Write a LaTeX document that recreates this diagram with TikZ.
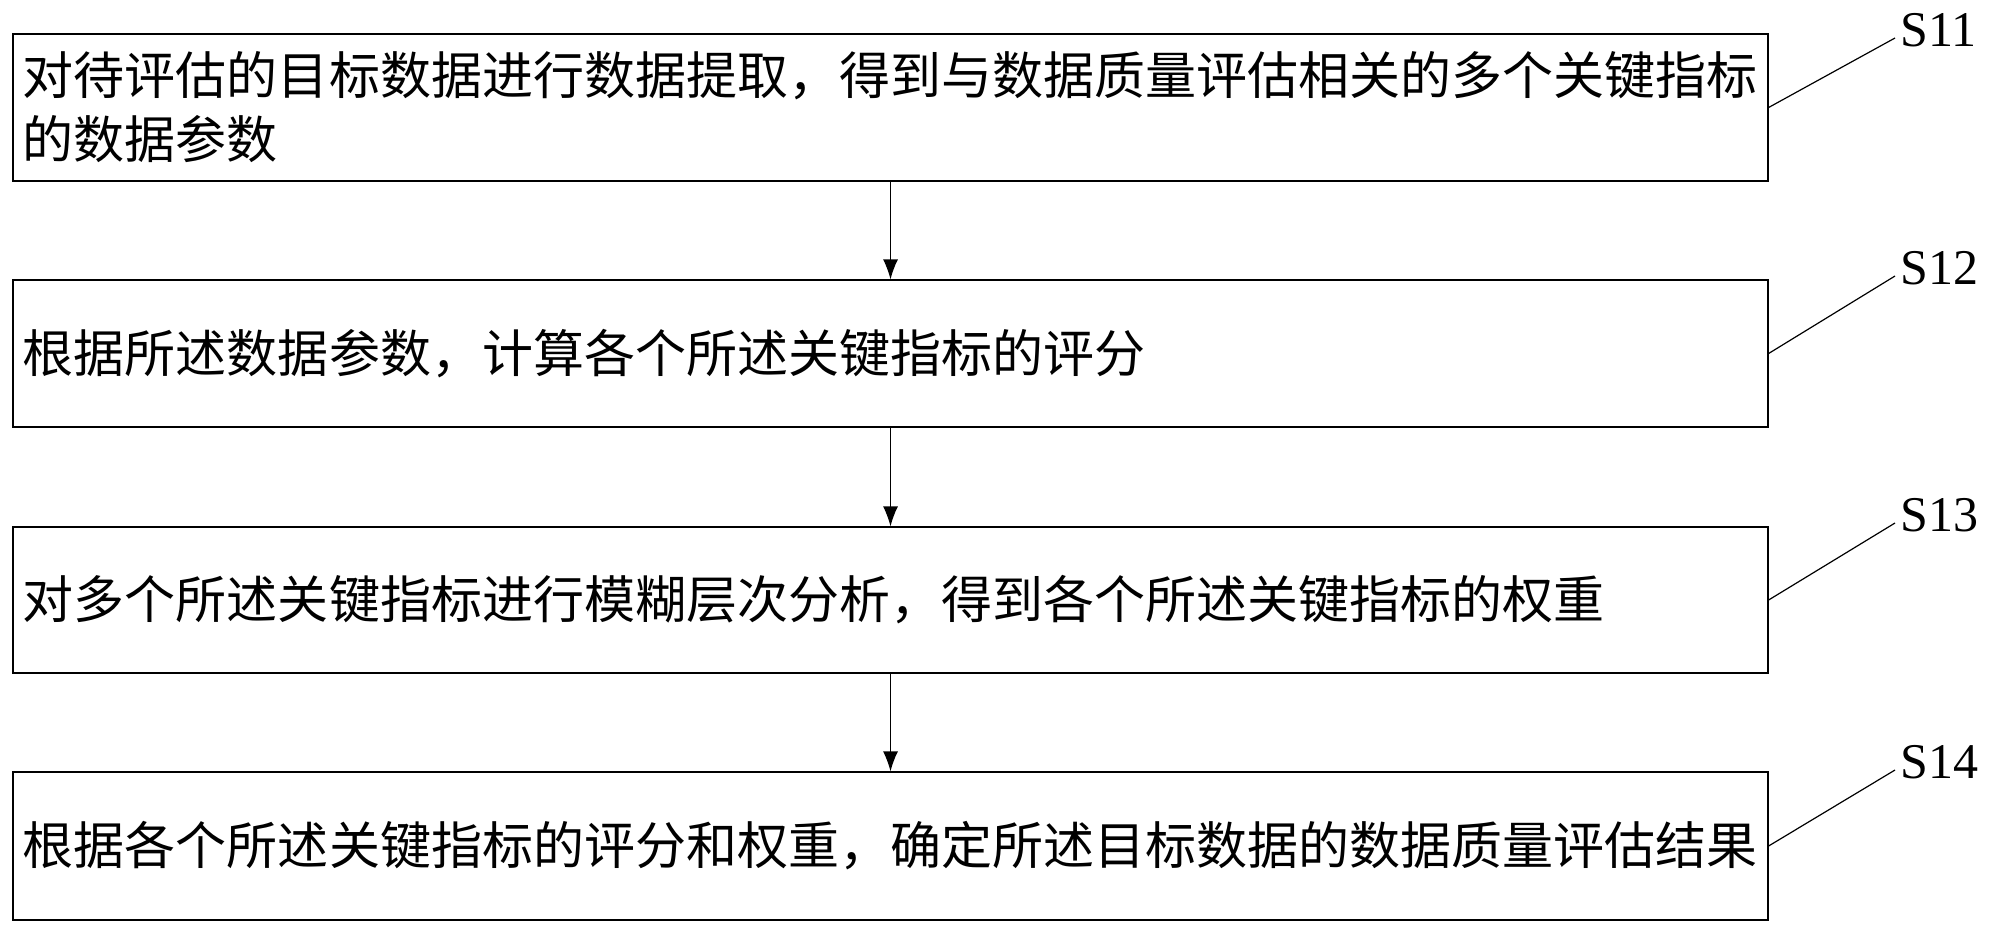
\documentclass[tikz,border=0pt]{standalone}
\usepackage{fontspec}
\setmainfont{Liberation Serif}
\newfontfamily\cjk{Noto Sans CJK SC}
\usetikzlibrary{positioning,arrows.meta}
\tikzset{
  stepbox/.style={draw, line width=1.2pt, minimum width=1755pt, text width=1735pt, align=left, inner xsep=8pt, font=\cjk\fontsize{51}{64}\selectfont},
  steplabel/.style={anchor=west, font=\fontsize{50}{50}\selectfont, inner sep=0pt},
  flow/.style={-{Latex[length=20pt,width=15pt]}, line width=1.2pt}
}
\begin{document}
\begin{tikzpicture}[x=1pt, y=-1pt]
  \useasboundingbox (0,0) rectangle (1997,932);
  % steps
  \node[stepbox, minimum height=147pt] (s11) at (890.5,107.5) {对待评估的目标数据进行数据提取，得到与数据质量评估相关的多个关键指标\\的数据参数};
  \node[stepbox, minimum height=147pt] (s12) at (890.5,353.5) {根据所述数据参数，计算各个所述关键指标的评分};
  \node[stepbox, minimum height=146pt] (s13) at (890.5,600) {对多个所述关键指标进行模糊层次分析，得到各个所述关键指标的权重};
  \node[stepbox, minimum height=148pt] (s14) at (890.5,846) {根据各个所述关键指标的评分和权重，确定所述目标数据的数据质量评估结果};
  % arrows
  \draw[flow] (s11) -- (s12);
  \draw[flow] (s12) -- (s13);
  \draw[flow] (s13) -- (s14);
  % labels
  \foreach \s/\y in {s11/30, s12/268, s13/515, s14/762} {
    \coordinate (\s l) at (1895,\y+8);
    \node[steplabel] at (1900,\y) {\MakeUppercase{\s}};
    \draw[line width=1.2pt] (\s.east) -- (\s l);
  }
\end{tikzpicture}
\end{document}
